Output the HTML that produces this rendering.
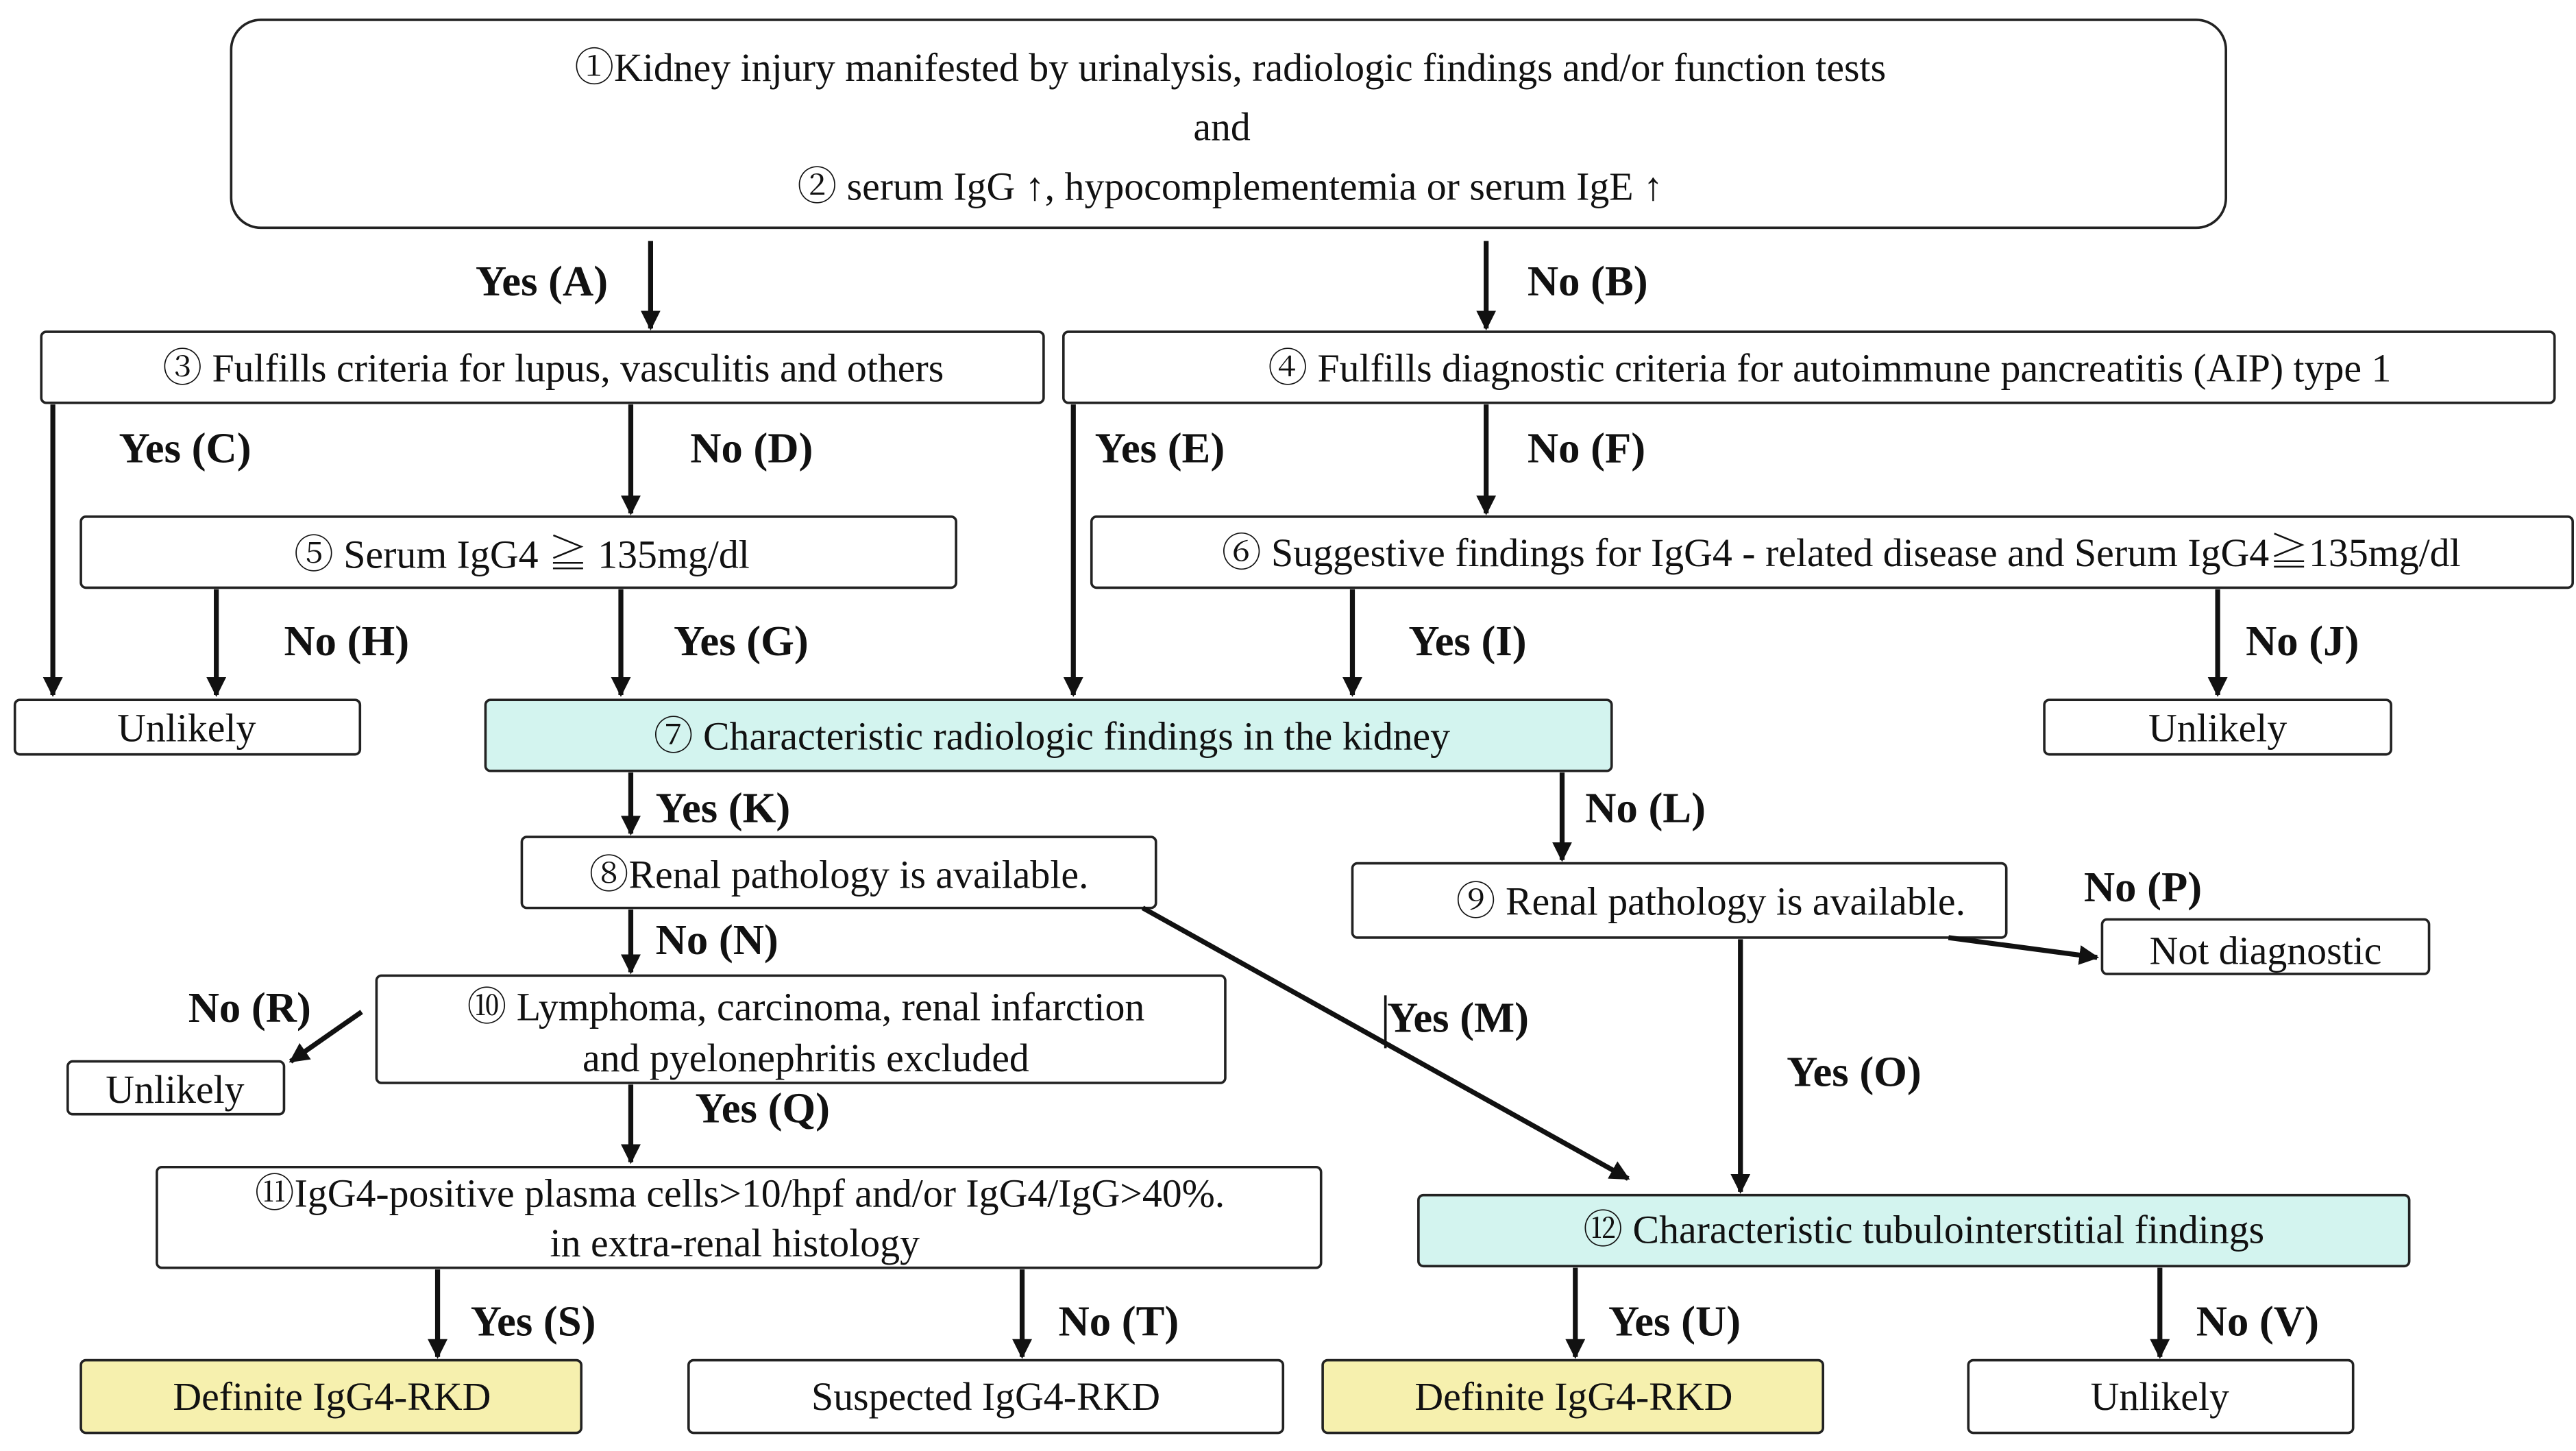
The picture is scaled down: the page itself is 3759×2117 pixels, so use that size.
<!DOCTYPE html>
<html><head><meta charset="utf-8"><style>
html,body{margin:0;padding:0;background:#fff}
svg{display:block}
text{font-family:"Liberation Serif","Noto Serif CJK SC",serif;fill:#111}
.b{fill:#fff;stroke:#222;stroke-width:1.5}
.c{fill:#d3f4ef;stroke:#222;stroke-width:1.5}
.y{fill:#f6f0ae;stroke:#222;stroke-width:1.5}
.l{stroke:#111;stroke-width:3;fill:none}
.t{font-size:24px}
.lab{font-size:26px;font-weight:bold}
</style></head><body>
<svg width="3759" height="2117" viewBox="0 0 1560 879" preserveAspectRatio="none" xmlns="http://www.w3.org/2000/svg">
<defs><marker id="a" viewBox="0 0 10 10" refX="9" refY="5" markerWidth="4" markerHeight="4" orient="auto"><path d="M0,0L10,5L0,10z" fill="#111"/></marker></defs>
<rect class="b" x="140" y="12" width="1208" height="126" rx="18"/>
<text class="t" x="745" y="49" text-anchor="middle" font-size="26">①Kidney injury manifested by urinalysis, radiologic findings and/or function tests</text>
<text class="t" x="740" y="85" text-anchor="middle" font-size="26">and</text>
<text class="t" x="745" y="121" text-anchor="middle" font-size="26">② serum IgG ↑,    hypocomplementemia or serum IgE ↑</text>

<line class="l" x1="394" y1="146" x2="394" y2="199" marker-end="url(#a)"/>
<text class="lab" x="288" y="179">Yes (A)</text>
<line class="l" x1="900" y1="146" x2="900" y2="199" marker-end="url(#a)"/>
<text class="lab" x="925" y="179">No (B)</text>

<rect class="b" x="25" y="201" width="607" height="43" rx="3"/>
<text class="t" x="335" y="231" text-anchor="middle">③ Fulfills criteria for lupus, vasculitis and others</text>
<rect class="b" x="644" y="201" width="903" height="43" rx="3"/>
<text class="t" x="1108" y="231" text-anchor="middle">④ Fulfills diagnostic criteria for autoimmune pancreatitis (AIP) type 1</text>

<line class="l" x1="32" y1="245" x2="32" y2="421" marker-end="url(#a)"/>
<text class="lab" x="72" y="280">Yes (C)</text>
<line class="l" x1="382" y1="245" x2="382" y2="311" marker-end="url(#a)"/>
<text class="lab" x="418" y="280">No (D)</text>
<line class="l" x1="650" y1="245" x2="650" y2="421" marker-end="url(#a)"/>
<text class="lab" x="663" y="280">Yes (E)</text>
<line class="l" x1="900" y1="245" x2="900" y2="311" marker-end="url(#a)"/>
<text class="lab" x="925" y="280">No (F)</text>

<rect class="b" x="49" y="313" width="530" height="43" rx="3"/>
<text class="t" x="316" y="344" text-anchor="middle">⑤ Serum IgG4 ≧ 135mg/dl</text>
<rect class="b" x="661" y="313" width="897" height="43" rx="3"/>
<text class="t" x="1115" y="343" text-anchor="middle">⑥ Suggestive findings for IgG4 - related disease and Serum IgG4≧135mg/dl</text>

<line class="l" x1="131" y1="357" x2="131" y2="421" marker-end="url(#a)"/>
<text class="lab" x="172" y="397">No (H)</text>
<line class="l" x1="376" y1="357" x2="376" y2="421" marker-end="url(#a)"/>
<text class="lab" x="408" y="397">Yes (G)</text>
<line class="l" x1="819" y1="357" x2="819" y2="421" marker-end="url(#a)"/>
<text class="lab" x="853" y="397">Yes (I)</text>
<line class="l" x1="1343" y1="357" x2="1343" y2="421" marker-end="url(#a)"/>
<text class="lab" x="1360" y="397">No (J)</text>

<rect class="b" x="9" y="424" width="209" height="33" rx="3"/>
<text class="t" x="113" y="449" text-anchor="middle">Unlikely</text>
<rect class="c" x="294" y="424" width="682" height="43" rx="3"/>
<text class="t" x="637" y="454" text-anchor="middle">⑦ Characteristic radiologic findings in the kidney</text>
<rect class="b" x="1238" y="424" width="210" height="33" rx="3"/>
<text class="t" x="1343" y="449" text-anchor="middle">Unlikely</text>

<line class="l" x1="382" y1="468" x2="382" y2="505" marker-end="url(#a)"/>
<text class="lab" x="397" y="498">Yes (K)</text>
<line class="l" x1="946" y1="468" x2="946" y2="521" marker-end="url(#a)"/>
<text class="lab" x="960" y="498">No (L)</text>

<rect class="b" x="316" y="507" width="384" height="43" rx="3"/>
<text class="t" x="508" y="538" text-anchor="middle">⑧Renal pathology is available.</text>
<rect class="b" x="819" y="523" width="396" height="45" rx="3"/>
<text class="t" x="1036" y="554" text-anchor="middle">⑨ Renal pathology is available.</text>
<text class="lab" x="1262" y="546">No (P)</text>
<line class="l" x1="1180" y1="568" x2="1270" y2="580" marker-end="url(#a)"/>
<rect class="b" x="1273" y="557" width="198" height="33" rx="3"/>
<text class="t" x="1372" y="584" text-anchor="middle">Not diagnostic</text>

<line class="l" x1="382" y1="551" x2="382" y2="589" marker-end="url(#a)"/>
<text class="lab" x="397" y="578">No (N)</text>
<line class="l" x1="692" y1="550" x2="986" y2="714" marker-end="url(#a)"/>
<line x1="839" y1="603" x2="839" y2="635" stroke="#111" stroke-width="1.5"/>
<text class="lab" x="840" y="625">Yes (M)</text>
<line class="l" x1="1054" y1="569" x2="1054" y2="722" marker-end="url(#a)"/>
<text class="lab" x="1082" y="658">Yes (O)</text>

<rect class="b" x="228" y="591" width="514" height="65" rx="3"/>
<text class="t" x="488" y="618" text-anchor="middle">⑩ Lymphoma, carcinoma, renal infarction</text>
<text class="t" x="488" y="649" text-anchor="middle">and pyelonephritis excluded</text>
<text class="lab" x="114" y="619">No (R)</text>
<line class="l" x1="219" y1="613" x2="176" y2="643" marker-end="url(#a)"/>
<rect class="b" x="41" y="643" width="131" height="32" rx="3"/>
<text class="t" x="106" y="668" text-anchor="middle">Unlikely</text>

<line class="l" x1="382" y1="657" x2="382" y2="704" marker-end="url(#a)"/>
<text class="lab" x="421" y="680">Yes (Q)</text>

<rect class="b" x="95" y="707" width="705" height="61" rx="3"/>
<text class="t" x="448" y="731" text-anchor="middle">⑪IgG4-positive plasma cells&gt;10/hpf and/or IgG4/IgG&gt;40%.</text>
<text class="t" x="445" y="761" text-anchor="middle">in extra-renal histology</text>
<rect class="c" x="859" y="724" width="600" height="43" rx="3"/>
<text class="t" x="1165" y="753" text-anchor="middle">⑫ Characteristic tubulointerstitial findings</text>

<line class="l" x1="265" y1="769" x2="265" y2="822" marker-end="url(#a)"/>
<text class="lab" x="285" y="809">Yes (S)</text>
<line class="l" x1="619" y1="769" x2="619" y2="822" marker-end="url(#a)"/>
<text class="lab" x="641" y="809">No (T)</text>
<line class="l" x1="954" y1="768" x2="954" y2="822" marker-end="url(#a)"/>
<text class="lab" x="974" y="809">Yes (U)</text>
<line class="l" x1="1308" y1="768" x2="1308" y2="822" marker-end="url(#a)"/>
<text class="lab" x="1330" y="809">No (V)</text>

<rect class="y" x="49" y="824" width="303" height="44" rx="3"/>
<text class="t" x="201" y="854" text-anchor="middle" font-size="22">Definite  IgG4-RKD</text>
<rect class="b" x="417" y="824" width="360" height="44" rx="3"/>
<text class="t" x="597" y="854" text-anchor="middle" font-size="22">Suspected IgG4-RKD</text>
<rect class="y" x="801" y="824" width="303" height="44" rx="3"/>
<text class="t" x="953" y="854" text-anchor="middle" font-size="22">Definite IgG4-RKD</text>
<rect class="b" x="1192" y="824" width="233" height="44" rx="3"/>
<text class="t" x="1308" y="854" text-anchor="middle" font-size="22">Unlikely</text>
</svg>
</body></html>
